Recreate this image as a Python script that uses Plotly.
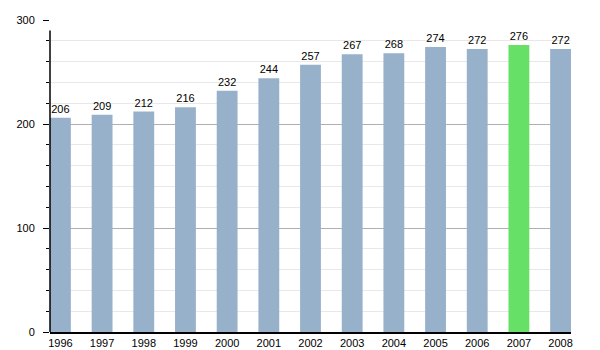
import plotly.graph_objects as go

years = ["1996", "1997", "1998", "1999", "2000", "2001", "2002", "2003", "2004", "2005", "2006", "2007", "2008"]
values = [206, 209, 212, 216, 232, 244, 257, 267, 268, 274, 272, 276, 272]
highlight = "2007"

colors = ["#66e066" if y == highlight else "#97b1cb" for y in years]

fig = go.Figure(go.Bar(
    x=years, y=values, marker=dict(color=colors, line=dict(width=0)),
    width=0.5, text=[str(v) for v in values], textposition="outside",
    textfont=dict(family="Liberation Sans, Arial, sans-serif", size=11, color="#000"),
    cliponaxis=False,
))

fig.update_layout(
    width=600, height=350, margin=dict(l=50, r=29, t=20, b=18),
    paper_bgcolor="white", plot_bgcolor="white", showlegend=False,
    font=dict(family="Liberation Sans, Arial, sans-serif", size=11, color="#000"),
    xaxis=dict(range=[-0.25, 12.25], showline=True, linecolor="#000", linewidth=1.5,
               ticks="", showgrid=False, tickfont=dict(size=11), automargin=False),
    yaxis=dict(range=[0, 300], tickvals=[0, 100, 200, 300], showgrid=True,
               gridcolor="#b0b0b0", gridwidth=1, ticks="outside", ticklen=6,
               tickcolor="#000", showline=False, zeroline=False, automargin=False,
               ticklabelstandoff=6,
               minor=dict(dtick=20, showgrid=True, gridcolor="#e8e8e8",
                          ticks="outside", ticklen=3, tickcolor="#000"),
               tickfont=dict(size=11)),
    shapes=[dict(type="line", xref="paper", x0=0, x1=0, yref="y", y0=0, y1=290,
                 line=dict(color="#000", width=1.5))],
)

fig.write_html("out.html")
